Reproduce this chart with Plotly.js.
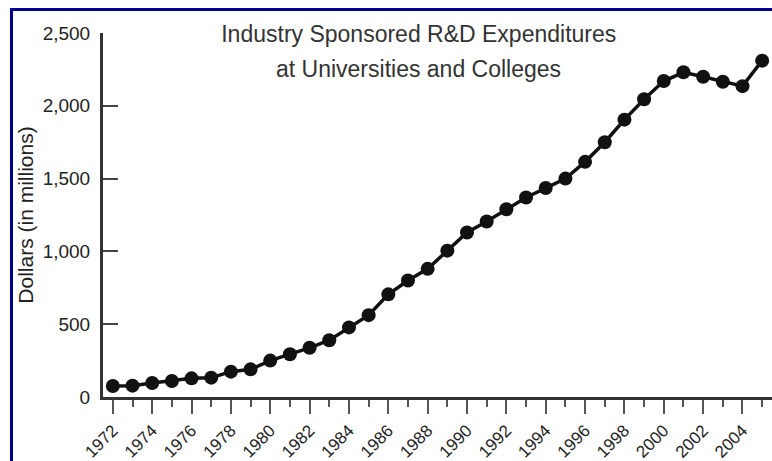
<!DOCTYPE html>
<html>
<head>
<meta charset="utf-8">
<script src="https://cdn.plot.ly/plotly-3.0.1.min.js"></script>
<style>
  html, body { margin: 0; padding: 0; background: #fff; overflow: hidden; }
  #wrap { position: absolute; left: 10px; top: 8px; border-top: 3px solid #000088; border-left: 3px solid #000088; }
  #chart { width: 759px; height: 450px; }
</style>
</head>
<body>
<div id="wrap"><div id="chart"></div></div>
<script>
const years = [1972,1973,1974,1975,1976,1977,1978,1979,1980,1981,1982,1983,1984,1985,1986,1987,1988,
               1989,1990,1991,1992,1993,1994,1995,1996,1997,1998,1999,2000,2001,2002,2003,2004,2005];
const expenditures = [76,78,96,110,128,133,174,190,250,294,338,390,478,562,705,800,880,
                      1005,1130,1205,1290,1370,1435,1500,1615,1750,1905,2045,2170,2230,2200,2165,2135,2310];
const xTickYears = [1972,1974,1976,1978,1980,1982,1984,1986,1988,1990,1992,1994,1996,1998,2000,2002,2004];
const yTickValues = [0,500,1000,1500,2000,2500];
const titleLine1 = "Industry Sponsored R&D Expenditures";
const titleLine2 = "at Universities and Colleges";
const yLabel = "Dollars (in millions)";

const font = "Liberation Sans, Arial, sans-serif";

const trace = {
  x: years,
  y: expenditures,
  type: "scatter",
  mode: "lines+markers",
  line: { color: "#111", width: 3.5 },
  marker: { color: "#111", size: 14 },
  hoverinfo: "x+y"
};

const layout = {
  width: 759, height: 450,
  margin: { l: 90, r: 0, t: 22, b: 64 },
  paper_bgcolor: "#fff", plot_bgcolor: "#fff",
  showlegend: false,
  font: { family: font, color: "#333" },
  title: {
    text: titleLine1,
    font: { family: font, size: 23, color: "#333" },
    xref: "paper", x: 0.472, xanchor: "center",
    yref: "container", y: 0.95, yanchor: "middle"
  },
  annotations: [{
    text: titleLine2, showarrow: false,
    xref: "paper", x: 0.472, xanchor: "center",
    yref: "paper", y: 0.9, yanchor: "middle",
    font: { family: font, size: 23, color: "#333" }
  }],
  xaxis: {
    range: [1971.5, 2005.5],
    tickmode: "array", tickvals: xTickYears, ticktext: xTickYears.map(String),
    tickangle: -45,
    ticks: "outside", ticklen: 14, tickwidth: 2, tickcolor: "#555",
    minor: { ticks: "outside", tick0: 1971, dtick: 1, ticklen: 7, tickwidth: 2, tickcolor: "#555" },
    showline: true, linecolor: "#333", linewidth: 3,
    showgrid: false, zeroline: false,
    tickfont: { family: font, size: 17, color: "#222" },
    fixedrange: true
  },
  yaxis: {
    range: [0, 2500],
    tickmode: "array", tickvals: yTickValues,
    tickformat: ",d",
    ticks: "inside", ticklen: 15, tickwidth: 2, tickcolor: "#444",
    ticklabelstandoff: 6,
    showline: true, linecolor: "#333", linewidth: 3,
    showgrid: false, zeroline: false,
    tickfont: { family: font, size: 19, color: "#222" },
    title: { text: yLabel, font: { family: font, size: 21, color: "#222" }, standoff: 4 },
    fixedrange: true
  }
};

Plotly.newPlot("chart", [trace], layout, { displayModeBar: false, staticPlot: true });
</script>
</body>
</html>
